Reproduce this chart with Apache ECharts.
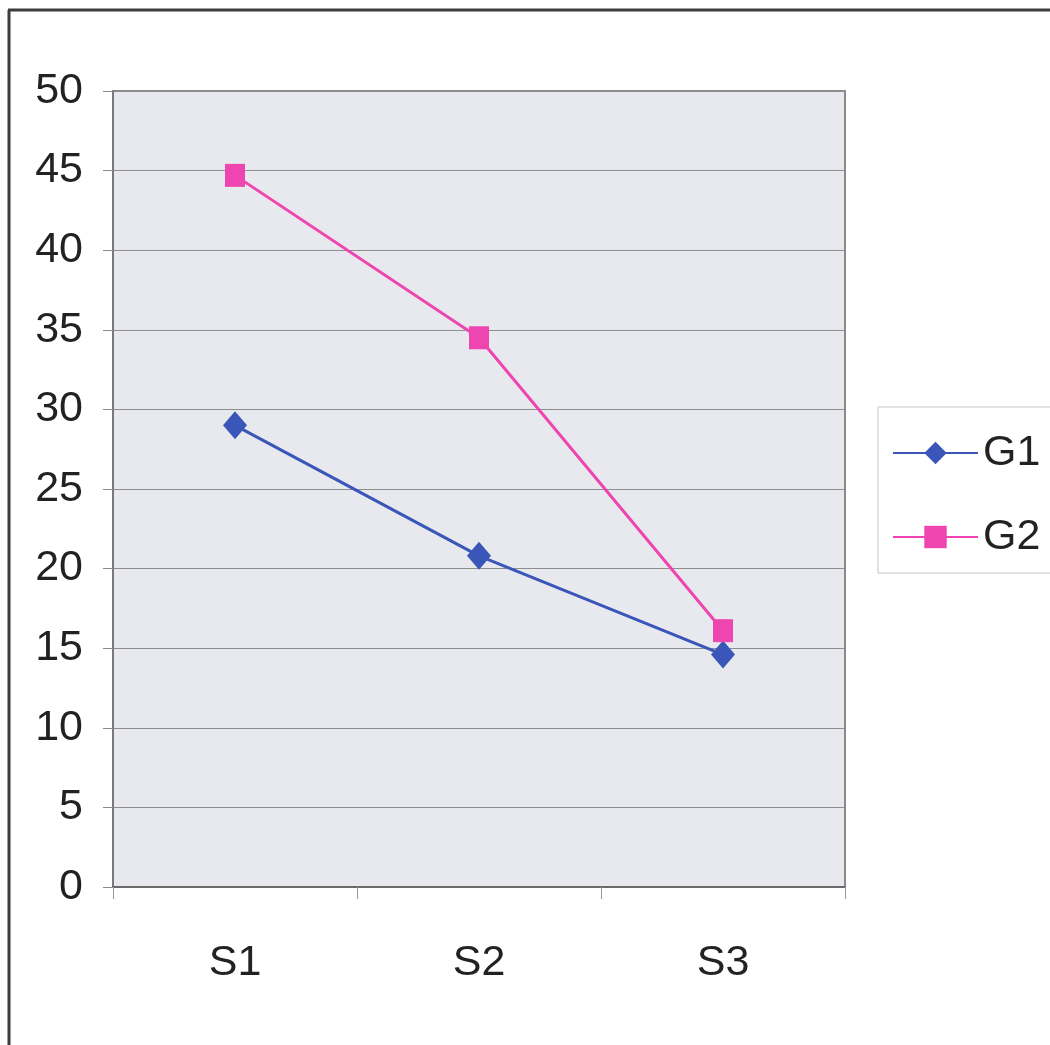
<!DOCTYPE html>
<html>
<head>
<meta charset="utf-8">
<script src="https://cdn.jsdelivr.net/npm/echarts@6/dist/echarts.min.js"></script>
<style>
  html, body { margin: 0; padding: 0; background: #ffffff; }
  #chart { width: 1050px; height: 1045px; }
</style>
</head>
<body>
<div id="chart"></div>
<script>
// Categories and series values
const categories = ['S1', 'S2', 'S3'];
const g1Values = [29.0, 20.8, 14.6];
const g2Values = [44.7, 34.5, 16.1];
const seriesNames = ['G1', 'G2'];

const labelFont = '"Liberation Sans Narrow", "Liberation Sans", Arial, sans-serif';

const chart = echarts.init(document.getElementById('chart'), null, { renderer: 'canvas' });

chart.setOption({
  animation: false,
  backgroundColor: '#ffffff',
  graphic: [
    // outer frame (top and left edges)
    { type: 'line', shape: { x1: 8, y1: 10, x2: 1050, y2: 10 }, style: { stroke: '#3a3f3c', lineWidth: 3 } },
    { type: 'line', shape: { x1: 9, y1: 10, x2: 9, y2: 1045 }, style: { stroke: '#3a3f3c', lineWidth: 3 } }
  ],
  grid: {
    left: 113, top: 91, width: 732, height: 796,
    show: true,
    backgroundColor: '#e7e9ee',
    borderColor: '#8a8a8a',
    borderWidth: 2
  },
  legend: {
    orient: 'vertical',
    left: 878,
    top: 407,
    padding: [24, 12, 14, 14],
    backgroundColor: '#ffffff',
    borderColor: '#c4c4c4',
    borderWidth: 1,
    itemWidth: 85,
    itemHeight: 28,
    itemGap: 40,
    data: seriesNames,
    textStyle: { fontFamily: labelFont, fontSize: 43, color: '#222222', lineHeight: 44 }
  },
  xAxis: {
    type: 'category',
    data: categories,
    boundaryGap: true,
    axisLine: { lineStyle: { color: '#6a6a6a', width: 2 } },
    axisTick: { show: true, length: 12, lineStyle: { color: '#9a9a9a', width: 1 } },
    axisLabel: { fontFamily: labelFont, fontSize: 43, color: '#222222', margin: 55 },
    splitLine: { show: false }
  },
  yAxis: {
    type: 'value',
    min: 0, max: 50, interval: 5,
    axisLine: { show: true, lineStyle: { color: '#7a7a7a', width: 2 } },
    axisTick: { show: true, length: 10, lineStyle: { color: '#8a8a8a', width: 1 } },
    axisLabel: { fontFamily: labelFont, fontSize: 43, color: '#222222', margin: 30 },
    splitLine: { show: true, lineStyle: { color: '#8e8e8e', width: 1 } }
  },
  series: [
    {
      name: seriesNames[0],
      type: 'line',
      data: g1Values,
      symbol: 'diamond',
      symbolSize: [24, 28],
      lineStyle: { color: '#3a56b8', width: 3 },
      itemStyle: { color: '#3a56b8' }
    },
    {
      name: seriesNames[1],
      type: 'line',
      data: g2Values,
      symbol: 'rect',
      symbolSize: [20, 23],
      lineStyle: { color: '#ee45b0', width: 3 },
      itemStyle: { color: '#ee45b0' }
    }
  ]
});
</script>
</body>
</html>
